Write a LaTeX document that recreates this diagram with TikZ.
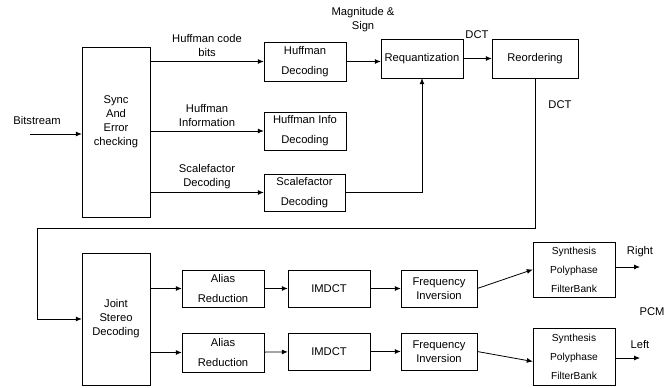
\documentclass[tikz,border=0pt]{standalone}
\usepackage{fontspec}
\setmainfont{Liberation Sans}
\usetikzlibrary{arrows.meta}
\begin{document}
\begin{tikzpicture}[x=1pt,y=-1pt,
  blk/.style={draw,thin,inner sep=0pt,align=center,font=\fontsize{11.2}{14}\selectfont},
  smallblk/.style={blk,font=\fontsize{10.2}{14}\selectfont},
  lbl/.style={inner sep=0pt,align=center,font=\fontsize{11.2}{14}\selectfont},
  arr/.style={thick,-{Latex[length=6pt,width=5pt]}}]
  \useasboundingbox (0,0) rectangle (665,388);
  \node[blk,minimum width=68,minimum height=170,text depth=22pt] (sync) at (116,132) {Sync\\And\\Error\\checking};
  \node[blk,minimum width=82,minimum height=39] (hdec) at (305,61.5) {Huffman\\[6pt]Decoding};
  \node[blk,minimum width=82,minimum height=38] (hinfo) at (305,131) {Huffman Info\\[6pt]Decoding};
  \node[blk,minimum width=81,minimum height=37] (sdec) at (304.5,192.5) {Scalefactor\\[6pt]Decoding};
  \node[blk,minimum width=82,minimum height=39] (requant) at (422,58.5) {Requantization};
  \node[blk,minimum width=86,minimum height=39] (reorder) at (535,58.5) {Reordering};
  \node[blk,minimum width=68,minimum height=132] (joint) at (116,319) {Joint\\Stereo\\Decoding};
  \node[blk,minimum width=82,minimum height=37] (alias1) at (223,288.5) {Alias\\[6pt]Reduction};
  \node[blk,minimum width=82,minimum height=39] (alias2) at (223,352.5) {Alias\\[6pt]Reduction};
  \node[blk,minimum width=82,minimum height=37] (imdct1) at (329,288.5) {IMDCT};
  \node[blk,minimum width=82,minimum height=37] (imdct2) at (329,351.5) {IMDCT};
  \node[blk,minimum width=76,minimum height=37] (freq1) at (439,288.5) {Frequency\\Inversion};
  \node[blk,minimum width=76,minimum height=37] (freq2) at (439,351.5) {Frequency\\Inversion};
  \node[smallblk,minimum width=82,minimum height=55] (synth1) at (574,269.5) {Synthesis\\[5pt]Polyphase\\[5pt]FilterBank};
  \node[smallblk,minimum width=82,minimum height=57] (synth2) at (574,356.5) {Synthesis\\[5pt]Polyphase\\[5pt]FilterBank};
  \node[lbl] (bits) at (37,120) {Bitstream};
  \node[lbl] (hcb) at (207,45) {Huffman code\\bits};
  \node[lbl] (hinf) at (207,116) {Huffman\\Information};
  \node[lbl] (sfd) at (207,177) {Scalefactor\\Decoding};
  \node[lbl] (mag) at (363,20) {Magnitude \&\\Sign};
  \node[lbl] (dcta) at (477,35) {DCT};
  \node[lbl] (dctb) at (560,105) {DCT};
  \node[lbl] (right) at (640,252) {Right};
  \node[lbl] (pcm) at (652,312) {PCM};
  \node[lbl] (left) at (640,345) {Left};
  \coordinate (bsin) at (30,134);
  \coordinate (turn) at (37,228);
  \coordinate (rout) at (640,267);
  \coordinate (lout) at (640,358);
  \draw[arr] (bsin) -- (sync.west |- bsin);
  \draw[arr] (sync.east |- hdec) -- (hdec.west);
  \draw[arr] (sync.east |- hinfo) -- (hinfo.west);
  \draw[arr] (sync.east |- sdec) -- (sdec.west);
  \draw[arr] (hdec.east) -- (requant.west |- hdec.east);
  \draw[arr] (requant.east) -- (reorder.west);
  \draw[arr] (sdec.east) -| (requant.south);
  \draw[thin] (reorder.south) |- (turn);
  \draw[arr] (turn) |- (joint.west);
  \draw[arr] (joint.east |- alias1) -- (alias1.west);
  \draw[arr] (joint.east |- alias2) -- (alias2.west);
  \draw[arr] (alias1) -- (imdct1);
  \draw[arr] (alias2) -- (imdct2);
  \draw[arr] (imdct1) -- (freq1);
  \draw[arr] (imdct2) -- (freq2);
  \draw[arr] (freq1.east) -- (synth1.west);
  \draw[arr] (freq2.east) -- ([yshift=-5pt]synth2.west);
  \draw[arr] (synth1.east |- rout) -- (rout);
  \draw[arr] (synth2.east |- lout) -- (lout);
\end{tikzpicture}
\end{document}
